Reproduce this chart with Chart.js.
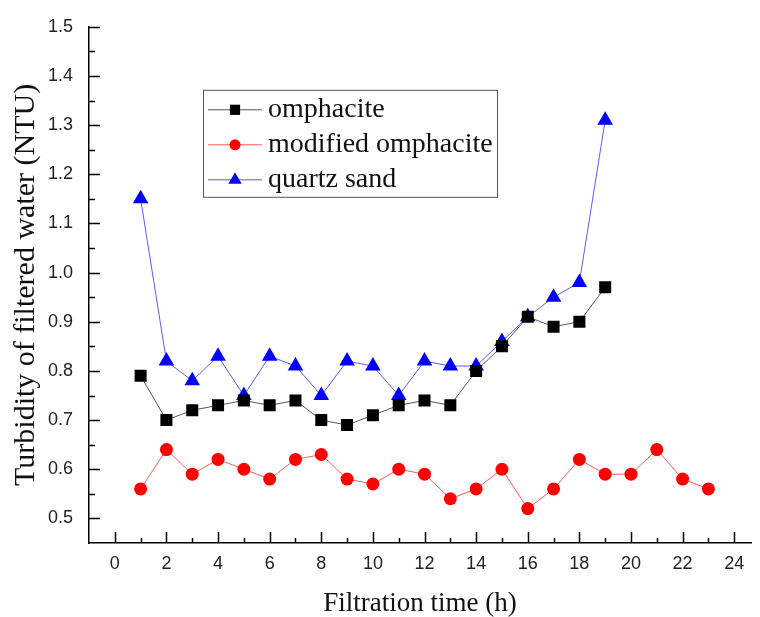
<!DOCTYPE html>
<html>
<head>
<meta charset="utf-8">
<script src="https://cdn.jsdelivr.net/npm/chart.js@4/dist/chart.umd.min.js"></script>
<style>
  html, body { margin: 0; padding: 0; background: #fff; }
  canvas { display: block; }
</style>
</head>
<body>
<canvas id="turbidityChart" width="760" height="617"></canvas>
<script>
// filtration time (h)
const hoursShort = [1, 2, 3, 4, 5, 6, 7, 8, 9, 10, 11, 12, 13, 14, 15, 16, 17, 18, 19];
const hoursLong = [1, 2, 3, 4, 5, 6, 7, 8, 9, 10, 11, 12, 13, 14, 15, 16, 17, 18, 19, 20, 21, 22, 23];

// turbidity (NTU)
const omphacite = [0.79, 0.70, 0.72, 0.73, 0.74, 0.73, 0.74, 0.70, 0.69, 0.71, 0.73, 0.74, 0.73, 0.80, 0.85, 0.91, 0.89, 0.90, 0.97];
const modifiedOmphacite = [0.56, 0.64, 0.59, 0.62, 0.60, 0.58, 0.62, 0.63, 0.58, 0.57, 0.60, 0.59, 0.54, 0.56, 0.60, 0.52, 0.56, 0.62, 0.59, 0.59, 0.64, 0.58, 0.56];
const quartzSand = [1.15, 0.82, 0.78, 0.83, 0.75, 0.83, 0.81, 0.75, 0.82, 0.81, 0.75, 0.82, 0.81, 0.81, 0.86, 0.91, 0.95, 0.98, 1.31];

const seriesLabels = ['omphacite', 'modified omphacite', 'quartz sand'];
const xTickLabels = [0, 2, 4, 6, 8, 10, 12, 14, 16, 18, 20, 22, 24];
const yTickLabels = [0.5, 0.6, 0.7, 0.8, 0.9, 1.0, 1.1, 1.2, 1.3, 1.4, 1.5];

const toPoints = (xs, ys) => xs.map((x, i) => ({ x, y: ys[i] }));

// major ticks from the label lists, plus one minor tick between each pair
const xTickValues = [];
for (let v = xTickLabels[0]; v <= xTickLabels[xTickLabels.length - 1]; v++) xTickValues.push(v);
const yTickValues = [];
for (let k = 10; k <= 30; k++) yTickValues.push(+(k * 0.05).toFixed(2));

const isMajorX = v => xTickLabels.includes(v);
const isMajorY = v => yTickLabels.some(t => Math.abs(t - v) < 1e-6);

// inward tick marks (major + minor), Origin style
const inwardTicks = {
  id: 'inwardTicks',
  afterDraw(chart) {
    const { ctx, chartArea, scales } = chart;
    ctx.save();
    ctx.strokeStyle = '#000';
    ctx.lineWidth = 1.5;
    ctx.beginPath();
    scales.x.ticks.forEach(t => {
      const px = Math.round(scales.x.getPixelForValue(t.value)) + 0.5;
      const len = isMajorX(t.value) ? 11 : 5;
      ctx.moveTo(px, chartArea.bottom);
      ctx.lineTo(px, chartArea.bottom - len);
    });
    scales.y.ticks.forEach(t => {
      const py = Math.round(scales.y.getPixelForValue(t.value)) + 0.5;
      const len = isMajorY(t.value) ? 11 : 6;
      ctx.moveTo(chartArea.left, py);
      ctx.lineTo(chartArea.left + len, py);
    });
    ctx.stroke();
    ctx.restore();
  }
};

// boxed legend inside the plot
const boxLegend = {
  id: 'boxLegend',
  afterDraw(chart) {
    const { ctx, chartArea } = chart;
    const bx = chartArea.left + 114, by = chartArea.top + 63, bw = 294, bh = 107;
    ctx.save();
    ctx.fillStyle = '#fff';
    ctx.fillRect(bx, by, bw, bh);
    ctx.strokeStyle = '#555';
    ctx.lineWidth = 1;
    ctx.strokeRect(bx + 0.5, by + 0.5, bw, bh);
    ctx.font = '28px "Liberation Serif", "Times New Roman", serif';
    ctx.textBaseline = 'middle';
    chart.data.datasets.forEach((ds, i) => {
      const cy = by + 20 + i * 35;
      ctx.strokeStyle = ds.borderColor;
      ctx.lineWidth = ds.borderWidth;
      ctx.beginPath();
      ctx.moveTo(bx + 5, cy);
      ctx.lineTo(bx + 59, cy);
      ctx.stroke();
      ctx.fillStyle = ds.pointBackgroundColor;
      Chart.helpers.drawPoint(ctx, { pointStyle: ds.pointStyle, radius: ds.pointRadius * 0.85, rotation: 0, borderWidth: 0 }, bx + 32, cy);
      ctx.fillStyle = '#111';
      ctx.fillText(ds.label, bx + 65, cy);
    });
    ctx.restore();
  }
};

new Chart(document.getElementById('turbidityChart'), {
  type: 'line',
  data: {
    datasets: [{
      label: seriesLabels[0],
      data: toPoints(hoursShort, omphacite),
      borderColor: '#555555', borderWidth: 1,
      pointStyle: 'rect', pointRadius: 8.5, pointHoverRadius: 8.5,
      pointBackgroundColor: '#000', pointBorderWidth: 0
    }, {
      label: seriesLabels[1],
      data: toPoints(hoursLong, modifiedOmphacite),
      borderColor: '#ff5a5a', borderWidth: 1,
      pointStyle: 'circle', pointRadius: 6.5, pointHoverRadius: 6.5,
      pointBackgroundColor: '#ff0000', pointBorderWidth: 0
    }, {
      label: seriesLabels[2],
      data: toPoints(hoursShort, quartzSand),
      borderColor: '#5a5aff', borderWidth: 1,
      pointStyle: 'triangle', pointRadius: 9, pointHoverRadius: 9,
      pointBackgroundColor: '#0000ff', pointBorderWidth: 0
    }]
  },
  options: {
    responsive: false,
    animation: false,
    layout: { padding: { top: 25, left: 0, right: 0, bottom: 0 } },
    plugins: { legend: { display: false }, tooltip: { enabled: false } },
    elements: { line: { tension: 0 } },
    scales: {
      x: {
        type: 'linear',
        min: -1, max: 24.65,
        afterFit: s => { s.height = 74; },
        afterBuildTicks: s => { s.ticks = xTickValues.map(value => ({ value })); },
        grid: { display: true, drawOnChartArea: false, drawTicks: false },
        border: { display: true, color: '#000', width: 1.5 },
        ticks: {
          autoSkip: false, maxRotation: 0, padding: 10,
          color: '#222', font: { family: '"Liberation Sans", Arial, sans-serif', size: 18 },
          callback: v => isMajorX(v) ? String(v) : ''
        },
        title: {
          display: true, text: 'Filtration time (h)', color: '#111',
          font: { family: '"Liberation Serif", "Times New Roman", serif', size: 27 },
          padding: { top: 0, bottom: -3 }
        }
      },
      y: {
        min: 0.45, max: 1.5,
        afterFit: s => { s.width = 89; },
        afterBuildTicks: s => { s.ticks = yTickValues.map(value => ({ value })); },
        grid: { display: true, drawOnChartArea: false, drawTicks: false },
        border: { display: true, color: '#000', width: 1.5 },
        ticks: {
          autoSkip: false, padding: 16,
          color: '#222', font: { family: '"Liberation Sans", Arial, sans-serif', size: 18 },
          callback: v => isMajorY(v) ? v.toFixed(1) : ''
        },
        title: {
          display: true, text: 'Turbidity of filtered water (NTU)', color: '#111',
          font: { family: '"Liberation Serif", "Times New Roman", serif', size: 30 },
          padding: { top: 8, bottom: 0 }
        }
      }
    }
  },
  plugins: [inwardTicks, boxLegend]
});
</script>
</body>
</html>
